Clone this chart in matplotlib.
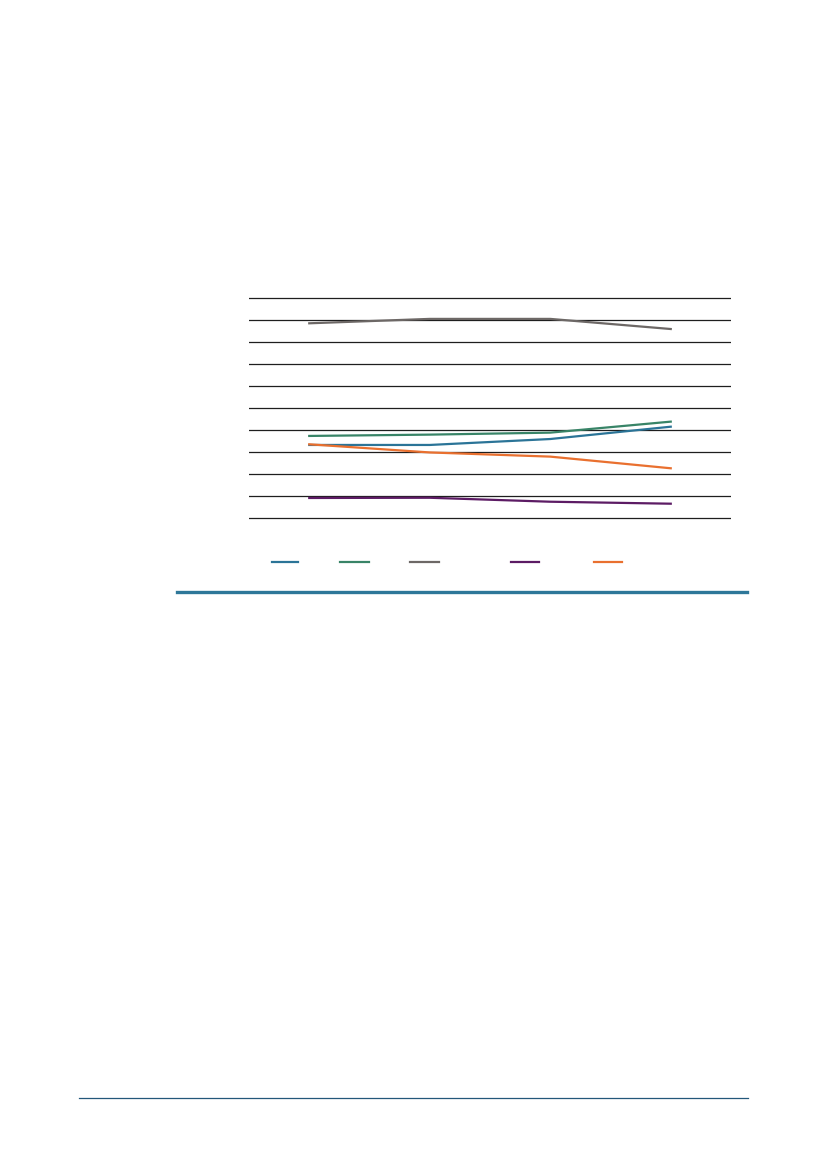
import matplotlib
matplotlib.use("Agg")
import matplotlib.pyplot as plt
from matplotlib.lines import Line2D

# four periods, values (gridlines every 10 units)
periods = [0, 1, 2, 3]
series_blue = [33.2, 33.2, 35.9, 41.5]
series_green = [37.3, 37.9, 38.8, 43.8]
series_gray = [88.5, 90.5, 90.5, 85.9]
series_purple = [9.1, 9.2, 7.4, 6.5]
series_orange = [33.5, 29.8, 27.9, 22.6]
y_ticks = [0, 10, 20, 30, 40, 50, 60, 70, 80, 90, 100]

colors = {
    "blue": "#2b7497",
    "green": "#388467",
    "gray": "#6d6866",
    "purple": "#5c1b64",
    "orange": "#e9702f",
}

W, H = 827, 1169
fig = plt.figure(figsize=(W / 100, H / 100), dpi=100)

# axes box in pixels (extra unit above and below so edge gridlines are not clipped)
px_per_unit = 2.2
left, right = 249, 731
top, bottom = 298 - px_per_unit, 518 + px_per_unit
ax = fig.add_axes([left / W, 1 - bottom / H, (right - left) / W, (bottom - top) / H])

ax.set_ylim(-1, 101)
ax.set_xlim(-0.5, 3.5)
ax.set_yticks(y_ticks)
ax.yaxis.grid(True, color="#1e1e1e", linewidth=0.9)
ax.set_axisbelow(True)
ax.tick_params(left=False, bottom=False, labelleft=False, labelbottom=False)
for s in ax.spines.values():
    s.set_visible(False)

ax.plot(periods, series_gray, color=colors["gray"], lw=1.6)
ax.plot(periods, series_green, color=colors["green"], lw=1.6)
ax.plot(periods, series_blue, color=colors["blue"], lw=1.6)
ax.plot(periods, series_orange, color=colors["orange"], lw=1.6)
ax.plot(periods, series_purple, color=colors["purple"], lw=1.6)

# legend keys (labels are not shown in the original)
legend_keys = [(272, 298, "blue"), (340, 369, "green"), (410, 439, "gray"),
               (511, 539, "purple"), (594, 622, "orange")]
for x0, x1, c in legend_keys:
    fig.add_artist(Line2D([x0 / W, x1 / W], [1 - 562 / H] * 2,
                          color=colors[c], lw=1.6, transform=fig.transFigure))

# section rules
fig.add_artist(Line2D([177 / W, 747 / W], [1 - 592 / H] * 2, color="#2e7799",
                      lw=2.4, transform=fig.transFigure))
fig.add_artist(Line2D([79 / W, 748 / W], [1 - 1098 / H] * 2, color="#23577a",
                      lw=0.9, transform=fig.transFigure))

fig.savefig("out.png", dpi=100, facecolor="white")
